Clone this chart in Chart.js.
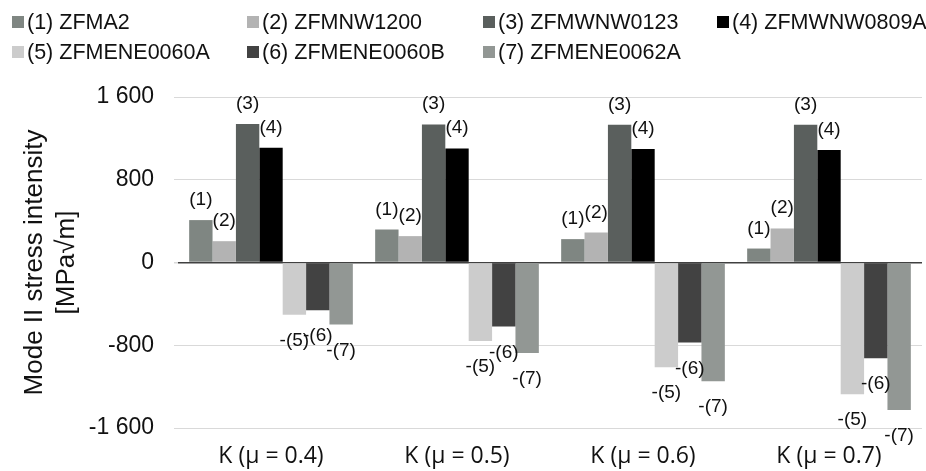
<!DOCTYPE html>
<html>
<head>
<meta charset="utf-8">
<script src="https://cdn.jsdelivr.net/npm/chart.js@4.4.1/dist/chart.umd.min.js"></script>
<style>
    body { margin: 0; background: #fff; }
    #wrap { position: relative; width: 926px; height: 471px; }
    #legend { position: absolute; left: 0; top: 0; width: 926px; height: 70px;
              font: 21.5px "Liberation Sans", Arial, sans-serif; color: #111; }
    .item { position: absolute; display: flex; align-items: center; white-space: nowrap; height: 24px; }
    .box { width: 12px; height: 12px; margin-right: 3px; }
</style>
</head>
<body>
<div id="wrap">
    <canvas id="myChart" width="926" height="471"></canvas>
    <div id="legend"></div>
</div>
<script>
// Load cases on the x axis
const categories = ['K (μ = 0.4)', 'K (μ = 0.5)', 'K (μ = 0.6)', 'K (μ = 0.7)'];

// Mode II stress intensity per material [MPa√m]
const zfma2 = [410, 319, 226, 135];
const zfmnw1200 = [206, 255, 290, 329];
const zfmwnw0123 = [1339, 1335, 1332, 1332];
const zfmwnw0809a = [1110, 1103, 1097, 1087];
const zfmene0060a = [-506, -758, -1013, -1274];
const zfmene0060b = [-461, -619, -774, -926];
const zfmene0062a = [-600, -874, -1148, -1426];

const seriesNames = ['(1) ZFMA2', '(2) ZFMNW1200', '(3) ZFMWNW0123', '(4) ZFMWNW0809A',
                     '(5) ZFMENE0060A', '(6) ZFMENE0060B', '(7) ZFMENE0062A'];
const seriesValues = [zfma2, zfmnw1200, zfmwnw0123, zfmwnw0809a, zfmene0060a, zfmene0060b, zfmene0062a];
const seriesColors = ['#7f8682', '#b3b3b3', '#5a5f5d', '#000000', '#cccccc', '#424242', '#929794'];

const yTicks = [-1600, -800, 0, 800, 1600];

// "1 600" style thousands separator
function fmt(v) {
    return String(v).replace(/\B(?=(\d{3})+(?!\d))/g, ' ');
}

// legend laid out as a 4-column grid
const legendCols = [12, 247, 483, 717];
const legendRows = [10, 40];
const legendEl = document.getElementById('legend');
seriesNames.forEach((name, i) => {
    const item = document.createElement('div');
    item.className = 'item';
    item.style.left = legendCols[i % 4] + 'px';
    item.style.top = legendRows[Math.floor(i / 4)] + 'px';
    const box = document.createElement('span');
    box.className = 'box';
    box.style.background = seriesColors[i];
    const txt = document.createElement('span');
    txt.textContent = name;
    item.appendChild(box);
    item.appendChild(txt);
    legendEl.appendChild(item);
});

// "(n)" above positive bars, "-(n)" below negative bars
const barLabels = {
    id: 'barLabels',
    afterDatasetsDraw(chart) {
        const ctx = chart.ctx;
        ctx.save();
        ctx.font = '19px "Liberation Sans", Arial, sans-serif';
        ctx.fillStyle = '#111';
        ctx.textAlign = 'center';
        ctx.textBaseline = 'alphabetic';
        chart.data.datasets.forEach((ds, i) => {
            chart.getDatasetMeta(i).data.forEach((bar, j) => {
                const tag = '(' + (i + 1) + ')';
                if (ds.data[j] >= 0) {
                    ctx.fillText(tag, bar.x, bar.y - 15);
                } else {
                    ctx.fillText('-' + tag, bar.x, bar.y + 31);
                }
            });
        });
        ctx.restore();
    }
};

const ctx = document.getElementById('myChart').getContext('2d');
const chart = new Chart(ctx, {
    type: 'bar',
    data: {
        labels: categories,
        datasets: seriesNames.map((name, i) => ({
            label: name,
            data: seriesValues[i],
            backgroundColor: seriesColors[i],
            borderWidth: 0,
            categoryPercentage: 0.88,
            barPercentage: 1.0,
        })),
    },
    options: {
        responsive: false,
        animation: false,
        devicePixelRatio: 1,
        layout: { padding: { top: 97, right: 4, left: 0, bottom: 0 } },
        plugins: {
            legend: { display: false },
            tooltip: { enabled: false },
        },
        scales: {
            x: {
                grid: { display: false, drawTicks: false },
                border: { display: false },
                ticks: {
                    padding: 15,
                    color: '#111',
                    font: { family: '"Open Sans", sans-serif', size: 23 },
                },
                afterFit: (scale) => { scale.height = 43; },
            },
            y: {
                min: -1600,
                max: 1600,
                afterBuildTicks: (scale) => { scale.ticks = yTicks.map(v => ({ value: v })); },
                grid: {
                    color: (c) => (c.tick && c.tick.value === 0 ? '#404040' : '#d9d9d9'),
                    lineWidth: (c) => (c.tick && c.tick.value === 0 ? 1.5 : 1),
                    tickColor: '#d9d9d9',
                    tickLength: 4,
                },
                border: { display: false },
                ticks: {
                    padding: 20,
                    color: '#111',
                    font: { family: '"Liberation Sans", Arial, sans-serif', size: 23 },
                    callback: (v) => fmt(v),
                },
                title: {
                    display: true,
                    text: ['Mode II stress intensity', '[MPa√m]'],
                    color: '#111',
                    font: { family: '"Liberation Sans", Arial, sans-serif', size: 26, lineHeight: 1.23 },
                    padding: { top: 19, bottom: 0 },
                },
                afterFit: (scale) => { scale.width = 178; },
            },
        },
    },
    plugins: [barLabels],
});
</script>
</body>
</html>
